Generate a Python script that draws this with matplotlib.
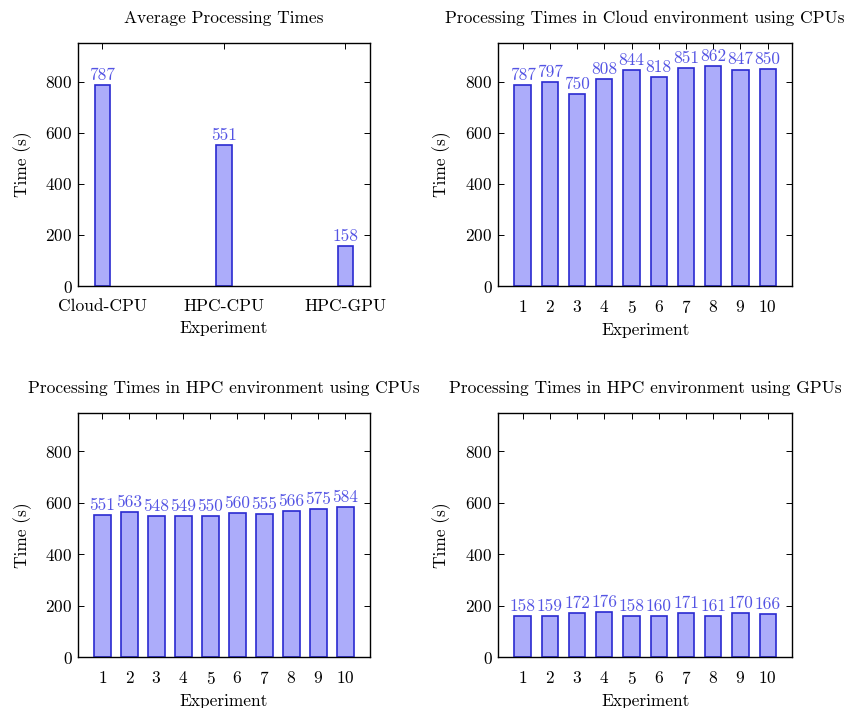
import numpy as np
import matplotlib
matplotlib.use("Agg")
import matplotlib.pyplot as plt

# averages
avg_labels = ["Cloud-CPU", "HPC-CPU", "HPC-GPU"]
avg_times = [787, 551, 158]

# per-experiment times
experiments = [1, 2, 3, 4, 5, 6, 7, 8, 9, 10]
cloud_cpu = [787, 797, 750, 808, 844, 818, 851, 862, 847, 850]
hpc_cpu = [551, 563, 548, 549, 550, 560, 555, 566, 575, 584]
hpc_gpu = [158, 159, 172, 176, 158, 160, 171, 161, 170, 166]

plt.rcParams['font.family'] = ['cmr10', 'DejaVu Serif']
plt.rcParams['axes.formatter.use_mathtext'] = True
plt.rcParams['axes.unicode_minus'] = False

FILL = '#acacfa'
EDGE = '#2a2ad0'
LABEL = '#5454e4'
FS = 12.5


def style_axes(ax, title):
    ax.set_title(title, fontsize=FS, pad=14.5)
    ax.set_ylim(0, 950)
    ax.set_yticks([0, 200, 400, 600, 800])
    ax.set_ylabel('Time (s)', fontsize=FS, labelpad=10)
    ax.set_xlabel('Experiment', fontsize=FS, labelpad=5)
    ax.tick_params(direction='in', top=True, right=True, length=4,
                   width=0.7, labelsize=FS)
    ax.tick_params(axis='x', pad=9)
    ax.tick_params(axis='y', pad=4)
    for s in ax.spines.values():
        s.set_linewidth(1.0)


def bars(ax, x, vals, width):
    b = ax.bar(x, vals, width, color=FILL, edgecolor=EDGE, linewidth=1.2, zorder=2)
    for xi, v in zip(x, vals):
        ax.annotate(str(v), (xi, v), xytext=(0, 1.5), textcoords='offset points',
                    ha='center', va='bottom', fontsize=FS, color=LABEL)
    return b


fig = plt.figure(figsize=(8.5, 7.08), dpi=100)
ax1 = fig.add_axes([0.092, 0.596, 0.343, 0.343])
ax2 = fig.add_axes([0.586, 0.596, 0.346, 0.343])
ax3 = fig.add_axes([0.092, 0.072, 0.343, 0.345])
ax4 = fig.add_axes([0.586, 0.072, 0.346, 0.345])

xa = np.arange(len(avg_labels))
bars(ax1, xa, avg_times, 0.13)
ax1.set_xticks(xa)
ax1.set_xticklabels(avg_labels)
ax1.set_xlim(-0.2, 2.2)
style_axes(ax1, 'Average Processing Times')

for ax, vals, title in [
        (ax2, cloud_cpu, 'Processing Times in Cloud environment using CPUs'),
        (ax3, hpc_cpu, 'Processing Times in HPC environment using CPUs'),
        (ax4, hpc_gpu, 'Processing Times in HPC environment using GPUs')]:
    bars(ax, experiments, vals, 0.6)
    ax.set_xticks(experiments)
    ax.set_xlim(0.1, 10.9)
    style_axes(ax, title)

plt.savefig('out.png', dpi=100)
